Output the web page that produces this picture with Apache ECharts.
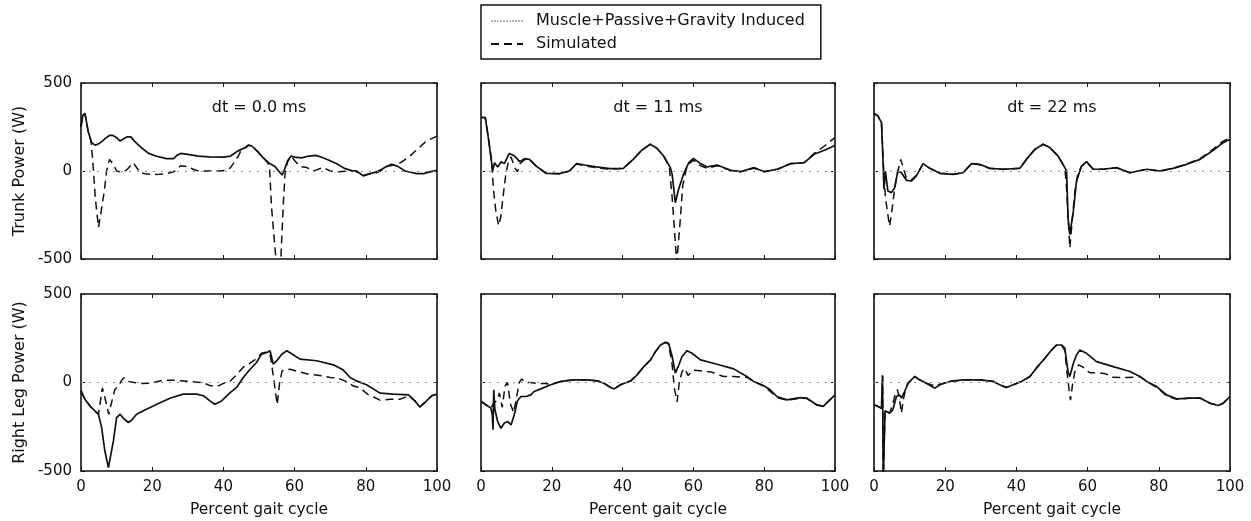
<!DOCTYPE html>
<html>
<head>
<meta charset="utf-8">
<script src="https://cdn.jsdelivr.net/npm/echarts@6/dist/echarts.min.js"></script>
<style>
  html, body { margin: 0; padding: 0; background: #fff; }
  #chart { width: 1251px; height: 521px; }
</style>
</head>
<body>
<div id="chart"></div>
<script>
// Power (W) versus percent gait cycle, pairs of [percent, watts]
const seriesNames = ['Muscle+Passive+Gravity Induced', 'Simulated'];
const panelTitles = ['dt = 0.0 ms', 'dt = 11 ms', 'dt = 22 ms'];
const rowNames = ['Trunk Power (W)', 'Right Leg Power (W)'];

const trunkInduced0 = [[0,250],[0.5,315],[1.1,328],[2,226],[3,160],[4,147],[5,155],[6,170],[7,188],[8,202],[9,202],[10,189],[11,170],[12,183],[13,194],[14,194],[15,170],[17,132],[19,100],[21,85],[24,70],[26,70],[27,90],[28,100],[30,94],[33,85],[36,80],[40,79],[42,85],[44,113],[46,132],[47,147],[48,142],[49.5,113],[51,79],[53,42],[54.5,25],[55.5,0],[56.5,-23],[57,0],[58,57],[59,85],[60,79],[62,75],[64,85],[66,89],[68,75],[70,58],[72,40],[74,15],[76,2],[77.4,0],[79.3,-28],[81.2,-15],[83,-5],[84.5,10],[85.8,25],[87.2,38],[89.1,25],[91,0],[94.3,-15],[96.2,-15],[98,-5],[100,4]];
const trunkSim0 = [[0,250],[0.5,315],[1.1,328],[2,226],[2.8,170],[3.3,60],[4,-150],[4.9,-320],[5.5,-250],[6.5,-120],[7.2,0],[8,66],[9,40],[10,0],[11,-5],[12,-5],[13,10],[14.7,47],[16.6,-10],[18,-15],[20,-20],[22,-18],[24,-15],[26,-5],[28,30],[30,25],[31.5,10],[33,0],[35,0],[39,0],[41,5],[42,19],[44.2,85],[45,118],[46.5,135],[47,147],[48,142],[49.5,113],[51,79],[52.5,45],[53,5],[53.5,-200],[55,-560],[56,-560],[56.8,-200],[57.3,-20],[58,50],[59,85],[60,60],[61.5,25],[63.4,20],[65,0],[66,5],[68,20],[70,0],[72,-5],[75,0],[77,0],[79.3,-25],[81.2,-15],[83,-10],[84,0],[86,25],[88,35],[90,50],[92.4,85],[94.3,120],[97,170],[100,198]];

const trunkInduced11 = [[0,304],[1.2,304],[2,200],[3.3,0],[3.8,47],[4.7,23],[5.7,53],[6.6,42],[8,100],[9.5,85],[10.9,53],[12.3,70],[13.7,66],[15.6,28],[18.4,-13],[22.2,-15],[25,0],[27,42],[29.3,34],[32.6,23],[36.4,13],[40.2,15],[43,66],[45.4,118],[47.8,152],[49.7,129],[51.6,85],[53.5,19],[54,-19],[54.9,-180],[55.8,-105],[57.2,-19],[58.7,47],[60,72],[62,42],[63.9,23],[66.7,34],[70.5,4],[73.3,-4],[77.1,19],[80,-4],[83.7,10],[87.5,42],[91.3,47],[94.1,95],[97,118],[100,145]];
const trunkSim11 = [[0,304],[1.2,304],[2,200],[3,60],[3.5,-100],[4.2,-230],[5,-310],[5.6,-260],[6.2,-150],[7,-20],[7.8,60],[8.5,80],[9.5,20],[10.3,-5],[11,40],[12.3,65],[13.7,66],[15.6,28],[18.4,-13],[22.2,-15],[25,0],[27,40],[29.3,30],[32.6,18],[36.4,10],[40.2,15],[43,66],[45.4,118],[47.8,152],[49.7,129],[51.6,85],[53.2,20],[54,-150],[55.3,-520],[56.2,-300],[57,-80],[58.2,30],[60,62],[62,30],[63.9,15],[66.7,30],[70.5,4],[73.3,-4],[77.1,15],[80,-4],[83.7,10],[87.5,42],[91.3,47],[94.1,100],[97,142],[100,190]];

const trunkInduced22 = [[0,327],[1.1,313],[2.1,275],[2.5,76],[2.8,-104],[3.2,0],[3.9,-114],[4.9,-123],[5.8,-95],[6.7,0],[7.7,-10],[9.1,-53],[10.5,-57],[11.9,-28],[13.8,42],[15.7,15],[18.5,-13],[22.2,-19],[25,-10],[27.4,42],[29.7,38],[32.5,15],[36.3,10],[41,15],[42.8,66],[45.2,123],[47.5,152],[49.4,133],[51.7,85],[53.6,19],[54.1,0],[54.5,-266],[55,-361],[56,-228],[56.9,-57],[58.3,28],[59.7,53],[61.6,10],[64.4,10],[68.1,19],[71.9,-10],[76.6,10],[80.3,0],[84,15],[87.8,38],[91.6,66],[95.3,118],[98.1,161],[100,180]];
const trunkSim22 = [[0,327],[1.1,313],[2.1,275],[2.6,50],[3.2,-150],[3.9,-250],[4.4,-313],[5.2,-200],[5.8,-100],[6.5,-20],[7.5,66],[8.2,20],[9.1,-40],[10.5,-50],[11.9,-25],[13.8,42],[15.7,15],[18.5,-13],[22.2,-19],[25,-10],[27.4,42],[29.7,35],[32.5,15],[36.3,10],[41,15],[42.8,66],[45.2,123],[47.5,152],[49.4,133],[51.7,85],[53.6,19],[54.1,-100],[55,-437],[55.6,-300],[56.4,-120],[57.2,-20],[58.3,28],[59.7,50],[61.6,10],[64.4,10],[68.1,19],[71.9,-10],[76.6,10],[80.3,0],[84,15],[87.8,40],[91.6,70],[95.3,125],[98.1,170],[100,190]];

const legInduced0 = [[0,-47],[1.1,-94],[2.5,-132],[3.9,-160],[4.9,-179],[5.8,-255],[6.7,-387],[7.7,-481],[8.1,-472],[9.1,-330],[10,-198],[11,-179],[11.9,-202],[13.3,-226],[14.2,-213],[15.6,-179],[17.5,-160],[21.3,-123],[25,-89],[28.7,-66],[32.5,-66],[34.4,-75],[36.2,-104],[37.6,-123],[39.5,-104],[41.9,-57],[43.7,-28],[45.6,28],[47.5,75],[49.3,113],[50.7,160],[52.2,170],[53.1,179],[54,104],[55,123],[56.4,160],[57.8,179],[59.6,157],[61.5,132],[66.2,123],[70.9,100],[73.7,70],[75.6,28],[77.4,9],[80.2,-13],[84,-60],[87.8,-66],[92,-70],[93.8,-104],[95.2,-138],[96.6,-113],[98.5,-75],[100,-66]];
const legSim0 = [[0,-47],[1.1,-94],[2.5,-132],[3.9,-165],[4.9,-179],[5.5,-100],[6,-30],[6.5,-40],[7,-110],[7.8,-180],[8.5,-120],[9.5,-40],[10.5,-20],[11.5,15],[12.2,28],[13.5,5],[15,0],[17,-5],[20,-3],[23,13],[26,13],[28,10],[31,5],[34,0],[36,-15],[38,-25],[40,-5],[42,10],[44,50],[45.5,85],[47.5,110],[49.3,135],[50.7,165],[52.2,172],[53.2,150],[54,40],[54.6,-50],[55.1,-125],[55.8,0],[56.5,66],[58.7,75],[61,62],[64,47],[67,40],[70,28],[72,25],[74.6,5],[76.5,-20],[78.4,-30],[80.5,-66],[82.5,-85],[84,-100],[86.9,-94],[89.7,-94],[92,-75],[93.8,-104],[95.2,-138],[96.6,-113],[98.5,-75],[100,-66]];

const legInduced11 = [[0,-107],[1.4,-126],[2.8,-145],[3.2,-182],[3.4,-267],[3.6,-41],[3.9,-150],[4.7,-220],[5.6,-258],[6.6,-229],[7.5,-220],[8.5,-239],[9.4,-182],[10.3,-103],[11.3,-79],[12.7,-79],[14.1,-70],[15,-51],[16.9,-36],[19.7,-13],[22.5,6],[26.3,15],[30,15],[32.9,9],[34.7,-4],[36.6,-28],[37.6,-36],[39.4,-13],[42.3,9],[44.1,43],[46,90],[47.9,128],[49.3,175],[50.7,212],[52.1,227],[53,222],[54,147],[54.9,53],[55.9,100],[56.8,147],[58.2,180],[59.6,165],[62,128],[66.7,103],[71.4,77],[75.1,34],[77,6],[79.8,-17],[81.7,-41],[83.6,-79],[86.4,-98],[90.1,-85],[92,-88],[94.8,-126],[96.7,-135],[98.1,-107],[100,-70]];
const legSim11 = [[0,-107],[1.4,-126],[2.8,-145],[3.5,-120],[4.5,-100],[5.2,-60],[6,-140],[6.8,-20],[7.5,0],[8.3,-120],[9.2,-170],[10,-90],[10.8,0],[11.5,20],[12.5,0],[14,0],[16,-5],[18,-5],[19.7,-10],[22.5,6],[26.3,15],[30,15],[32.9,9],[34.7,-4],[36.6,-28],[37.6,-36],[39.4,-13],[42.3,9],[44.1,43],[46,90],[47.9,128],[49.3,175],[50.7,212],[52.1,227],[53,215],[54,100],[54.6,-30],[55.4,-110],[56,0],[56.8,62],[57.5,80],[58.5,40],[60,70],[62,66],[65,60],[68.5,34],[71.4,34],[73.5,30],[75.1,30],[77,6],[79.8,-20],[81.7,-50],[83.6,-85],[86.4,-100],[90.1,-88],[92,-90],[94.8,-126],[96.7,-135],[98.1,-107],[100,-70]];

const legInduced22 = [[0,-126],[1.1,-135],[2.1,-145],[2.4,40],[2.6,-560],[2.9,-560],[3.1,-160],[3.5,-164],[4.4,-173],[5.3,-154],[6.3,-79],[7.2,-70],[7.7,-88],[8.6,-51],[9.6,-4],[10.5,15],[11.4,34],[12.8,15],[14.7,-4],[17.1,-32],[18.5,-13],[21.3,6],[25,15],[29.7,15],[33.5,6],[35.3,-13],[37.2,-28],[39.1,-13],[41.4,6],[43.8,34],[45.6,81],[48,137],[49.9,184],[51.3,212],[52.7,212],[53.6,194],[54.5,62],[55,34],[56,109],[56.9,156],[57.8,184],[59.7,165],[62.5,118],[67.2,90],[71.9,62],[74.7,34],[76.6,6],[79.4,-23],[82.2,-70],[85,-92],[88.8,-88],[91.6,-88],[94.4,-117],[96.7,-130],[98.1,-117],[100,-79]];
const legSim22 = [[0,-126],[1.1,-135],[2.1,-145],[2.4,40],[2.6,-560],[2.9,-560],[3.1,-160],[3.5,-164],[4.4,-173],[5.3,-120],[6,-60],[6.6,-40],[7.2,-100],[7.7,-173],[8.3,-90],[9,-30],[9.6,-4],[10.5,15],[11.4,34],[12.8,15],[14.7,-4],[17.1,-20],[18.5,-10],[21.3,6],[25,15],[29.7,15],[33.5,6],[35.3,-13],[37.2,-28],[39.1,-13],[41.4,6],[43.8,34],[45.6,81],[48,137],[49.9,184],[51.3,212],[52.7,212],[53.6,180],[54.2,60],[54.8,-40],[55.2,-100],[55.7,-20],[56.4,60],[57.5,100],[58.5,90],[60.6,55],[63,55],[65,50],[67,30],[71,28],[73,30],[74.7,34],[76.6,6],[79.4,-28],[82.2,-75],[85,-95],[88.8,-88],[91.6,-88],[94.4,-117],[96.7,-130],[98.1,-117],[100,-79]];

const xTicks = { min: 0, max: 100, interval: 20 };
const yTicks = { min: -500, max: 500, interval: 500 };

// panel order: trunk row (dt 0, 11, 22), then right-leg row
const panels = [
  { induced: trunkInduced0, sim: trunkSim0 },
  { induced: trunkInduced11, sim: trunkSim11 },
  { induced: trunkInduced22, sim: trunkSim22 },
  { induced: legInduced0, sim: legSim0 },
  { induced: legInduced11, sim: legSim11 },
  { induced: legInduced22, sim: legSim22 }
];

const FONT = 'DejaVu Sans';
const INK = '#111';
const colLeft = [81, 481, 874];
const colWidth = [356, 354, 356];
const rowTop = [83, 294];
const rowHeight = [176, 177];

const grids = [], xAxes = [], yAxes = [], series = [];

panels.forEach((p, i) => {
  const row = Math.floor(i / 3), col = i % 3;
  grids.push({ left: colLeft[col], top: rowTop[row], width: colWidth[col], height: rowHeight[row], containLabel: false });

  const axisLine = { show: true, onZero: false, lineStyle: { color: INK, width: 1.6 } };
  const tick = { show: true, inside: true, length: 4, lineStyle: { color: INK, width: 1 } };
  const bottomRow = row === 1, leftCol = col === 0;

  xAxes.push({
    gridIndex: i, type: 'value', position: 'bottom', ...xTicks,
    axisLine, axisTick: tick, splitLine: { show: false },
    axisLabel: { show: bottomRow, margin: 9, color: INK, fontFamily: FONT, fontSize: 15 },
    name: bottomRow ? 'Percent gait cycle' : '', nameLocation: 'middle', nameGap: 31,
    nameTextStyle: { color: INK, fontFamily: FONT, fontSize: 15.5 }
  });
  xAxes.push({
    gridIndex: i, type: 'value', position: 'top', ...xTicks,
    axisLine, axisTick: tick, splitLine: { show: false }, axisLabel: { show: false }
  });
  yAxes.push({
    gridIndex: i, type: 'value', position: 'left', ...yTicks,
    axisLine, axisTick: tick, splitLine: { show: false },
    axisLabel: { show: leftCol, margin: 9, color: INK, fontFamily: FONT, fontSize: 15 },
    name: leftCol ? rowNames[row] : '', nameLocation: 'middle', nameGap: 53, nameRotate: 90,
    nameTextStyle: { color: INK, fontFamily: FONT, fontSize: 16 }
  });
  yAxes.push({
    gridIndex: i, type: 'value', position: 'right', ...yTicks,
    axisLine, axisTick: tick, splitLine: { show: false }, axisLabel: { show: false }
  });

  series.push({
    name: seriesNames[0], type: 'line', xAxisIndex: 2 * i, yAxisIndex: 2 * i,
    data: p.induced, symbol: 'none', clip: true, color: INK,
    lineStyle: { color: INK, width: 1.7 },
    markLine: {
      silent: true, symbol: ['none', 'none'], label: { show: false },
      lineStyle: { color: '#8a8a8a', type: [2, 6], width: 1.2 },
      data: [{ yAxis: 0 }]
    }
  });
  series.push({
    name: seriesNames[1], type: 'line', xAxisIndex: 2 * i, yAxisIndex: 2 * i,
    data: p.sim, symbol: 'none', clip: true, color: INK,
    lineStyle: { color: INK, width: 1.5, type: [8, 5] }
  });
});

const titleText = panelTitles.map((t, col) => ({
  type: 'text',
  x: colLeft[col] + colWidth[col] / 2, y: 108,
  style: { text: t, fill: INK, font: '16px "' + FONT + '"', textAlign: 'center', textVerticalAlign: 'middle' }
}));

const chart = echarts.init(document.getElementById('chart'), null, { renderer: 'canvas' });
chart.setOption({
  animation: false,
  backgroundColor: '#fff',
  textStyle: { fontFamily: FONT, color: INK },
  grid: grids,
  xAxis: xAxes,
  yAxis: yAxes,
  legend: {
    left: 481, top: 5, orient: 'vertical',
    padding: [8, 16, 7, 9], itemGap: 7, itemWidth: 32, itemHeight: 14,
    borderColor: INK, borderWidth: 1.5,
    itemStyle: { opacity: 0 },
    textStyle: { fontFamily: FONT, fontSize: 16, color: INK, padding: [0, 0, 0, 8] },
    selectedMode: false,
    data: [
      { name: seriesNames[0], itemStyle: { opacity: 0 }, lineStyle: { color: '#9a9a9a', width: 1.5, type: [2, 1] } },
      { name: seriesNames[1], itemStyle: { opacity: 0 } }
    ]
  },
  graphic: titleText,
  series
});
</script>
</body>
</html>
